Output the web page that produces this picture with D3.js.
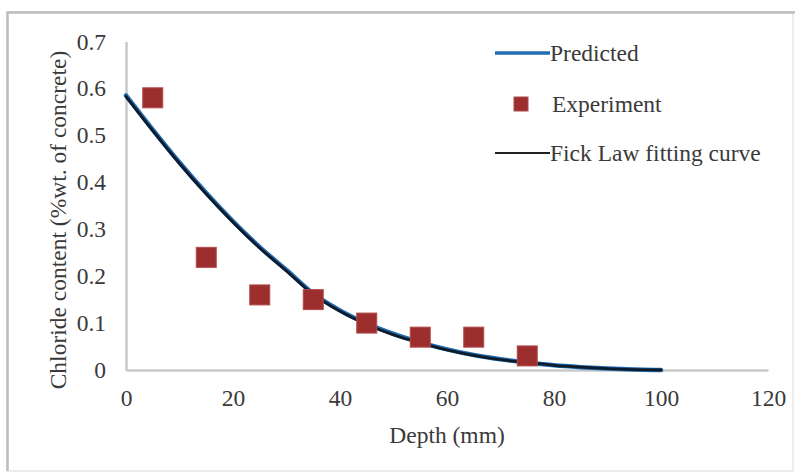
<!DOCTYPE html>
<html>
<head>
<meta charset="utf-8">
<script src="https://cdn.jsdelivr.net/npm/d3@7"></script>
<style>
  html, body { margin: 0; padding: 0; background: #fff; }
  svg { display: block; }
</style>
</head>
<body>
<svg id="chart" width="795" height="474"></svg>
<script>
// Depth (mm) of the sampled profile points
const curveDepth = [0, 5, 10, 15, 20, 25, 30, 35, 40, 45, 50, 55, 60, 65, 70, 75, 80, 85, 90, 95, 100];
// Model prediction (%wt. of concrete)
const predicted = [0.585, 0.512, 0.442, 0.377, 0.317, 0.262, 0.213, 0.163, 0.127, 0.099, 0.077, 0.059, 0.044, 0.032, 0.023, 0.016, 0.010, 0.006, 0.003, 0.001, 0.000];
// Fick's second law fit (%wt. of concrete)
const fickFit = [0.583, 0.510, 0.440, 0.375, 0.315, 0.260, 0.211, 0.161, 0.125, 0.097, 0.075, 0.058, 0.043, 0.031, 0.022, 0.016, 0.010, 0.006, 0.003, 0.001, 0.000];
// Measured chloride content
const expDepth = [5, 15, 25, 35, 45, 55, 65, 75];
const experiment = [0.58, 0.24, 0.16, 0.15, 0.10, 0.07, 0.07, 0.03];
// Axis ticks
const xTicks = [0, 20, 40, 60, 80, 100, 120];
const yTicks = [0, 0.1, 0.2, 0.3, 0.4, 0.5, 0.6, 0.7];
const legendLabels = ["Predicted", "Experiment", "Fick Law fitting curve"];

const svg = d3.select("#chart");
const fontSize = 23.5;
const serif = "'Liberation Serif', 'DejaVu Serif', serif";
const styleText = sel => sel.style("font-family", serif).style("font-size", fontSize + "px").style("fill", "#3a3a3a");

// outer frame
svg.append("rect").attr("x", 7).attr("y", 12).attr("width", 786).attr("height", 459)
  .attr("fill", "none").attr("stroke", "#e6e6e6").attr("stroke-width", 1.5);
svg.append("path").attr("d", "M7.5,471 V12.5 H795")
  .attr("fill", "none").attr("stroke", "#bdbdbd").attr("stroke-width", 2.5);

const x = d3.scaleLinear().domain([0, 120]).range([126, 768]);
const y = d3.scaleLinear().domain([0, 0.7]).range([370, 41.5]);

// axes
const xAxis = svg.append("g").attr("transform", `translate(0,${y(0)})`)
  .call(d3.axisBottom(x).tickValues(xTicks).tickSize(0).tickPadding(19).tickFormat(d3.format("d")));
const yAxis = svg.append("g").attr("transform", `translate(${x(0)},0)`)
  .call(d3.axisLeft(y).tickValues(yTicks).tickSize(0).tickPadding(20).tickFormat(d => d === 0 ? "0" : d3.format(".1f")(d)));
[xAxis, yAxis].forEach(g => {
  g.attr("font-family", serif);
  g.select(".domain").attr("stroke", "#c8c8c8").attr("stroke-width", 2.5);
  g.selectAll("text").call(styleText);
});

// axis titles
svg.append("text").attr("x", 447).attr("y", 443).attr("text-anchor", "middle")
  .text("Depth (mm)").call(styleText);
svg.append("text").attr("transform", "translate(66,220) rotate(-90)").attr("text-anchor", "middle")
  .text("Chloride content (%wt. of concrete)").call(styleText);

// curves
const line = d3.line().x(d => x(d[0])).y(d => y(d[1])).curve(d3.curveMonotoneX);
svg.append("path").datum(curveDepth.map((d, i) => [d, predicted[i]]))
  .attr("d", line).attr("fill", "none").attr("stroke", "#1f6db3").attr("stroke-width", 4.5)
  .attr("stroke-linecap", "round");
svg.append("path").datum(curveDepth.map((d, i) => [d, fickFit[i]]))
  .attr("d", line).attr("fill", "none").attr("stroke", "#0d1b2a").attr("stroke-width", 2.8)
  .attr("stroke-linecap", "round");

// experimental points
const sq = 20;
svg.append("g").selectAll("rect").data(expDepth.map((d, i) => [d, experiment[i]])).join("rect")
  .attr("x", d => x(d[0]) - sq / 2).attr("y", d => y(d[1]) - sq / 2)
  .attr("width", sq).attr("height", sq)
  .attr("fill", "#9c2e2e").attr("stroke", "#b24a4a").attr("stroke-width", 1);

// legend
const lg = svg.append("g");
lg.append("line").attr("x1", 495).attr("x2", 550).attr("y1", 53).attr("y2", 53)
  .attr("stroke", "#1f6db3").attr("stroke-width", 3.5);
lg.append("rect").attr("x", 514).attr("y", 97).attr("width", 14).attr("height", 14)
  .attr("fill", "#9c2e2e").attr("stroke", "#b24a4a").attr("stroke-width", 1);
lg.append("line").attr("x1", 495).attr("x2", 550).attr("y1", 153).attr("y2", 153)
  .attr("stroke", "#222").attr("stroke-width", 2.2);
const ly = [53, 104, 153];
lg.selectAll("text.lbl").data(legendLabels).join("text").attr("class", "lbl")
  .attr("x", (d, i) => i === 1 ? 552 : 550).attr("y", (d, i) => ly[i]).attr("dy", "0.35em")
  .text(d => d).call(styleText);
</script>
</body>
</html>
